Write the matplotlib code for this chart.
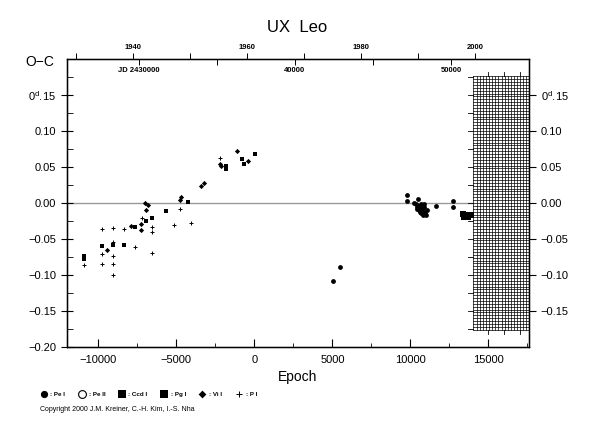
import matplotlib.pyplot as plt
import numpy as np

plt.rcParams['font.family'] = ['Liberation Sans', 'DejaVu Sans']
plt.rcParams['mathtext.default'] = 'regular'

# O-C data (epoch, days)
pe1_epoch = [5064, 5494, 9788, 9788, 10490, 10212, 10350, 10400, 10450, 10500,
             10550, 10600, 10650, 10700, 10750, 10800, 10850, 10900, 10950,
             11000, 11050, 10700, 10900, 11622, 12735, 12735]
pe1_oc = [-0.1087, -0.0889, 0.0107, 0.0024, 0.0050, 0.0005, -0.002, -0.005,
          -0.008, -0.004, -0.010, -0.012, -0.007, -0.014, -0.009, -0.016,
          -0.012, -0.006, -0.014, -0.017, -0.010, -0.002, -0.001, -0.0046,
          0.0028, -0.0056]

ccd1_epoch = [13400, 13500, 13600, 13700, 13800, 13900, 13450, 13650]
ccd1_oc = [-0.015, -0.018, -0.016, -0.019, -0.017, -0.016, -0.020, -0.020]

pg1_epoch = [-10897, -10897, -9763, -9058, -8353, -7647, -6923, -6538, -5641,
             -4276, -1814, -1814, -814, -686, 19]
pg1_oc = [-0.074, -0.078, -0.060, -0.0588, -0.0588, -0.0338, -0.0254, -0.0203,
          -0.0115, 0.0014, 0.051, 0.047, 0.061, 0.0547, 0.0676]

vi1_epoch = [-9442, -7929, -7244, -7244, -6987, -6840, -6942, -4788, -4700,
             -3417, -3224, -2224, -2115, -1090, -404]
vi1_oc = [-0.0648, -0.0314, -0.0291, -0.0375, 0.0, -0.003, -0.010, 0.0047,
          0.0083, 0.0236, 0.0283, 0.0538, 0.0514, 0.0728, 0.0583]

p1_epoch = [-10897, -9763, -9058, -8333, -7224, -6538, -6538, -6538, -9763,
            -9058, -9058, -9763, -9058, -9058, -7673, -4744, -5128, -4038, -2224]
p1_oc = [-0.0856, -0.0356, -0.0347, -0.0365, -0.0208, -0.034, -0.040, -0.069,
         -0.0703, -0.0537, -0.074, -0.085, -0.085, -0.0995, -0.061, -0.0078,
         -0.030, -0.028, 0.0625]

# ephemeris used for the top scales
T0 = 2437400.0
P = 1.0
years = [1930, 1940, 1950, 1960, 1970, 1980, 1990, 2000]
jd_ticks = [2430000, 2435000, 2440000, 2445000, 2450000, 2455000]
jd_labels = ['JD 2430000', '', '40000', '', '50000', '']

xmin, xmax = -12000, 17600
grid_left = 14040

fig = plt.figure(figsize=(5.9, 4.25), dpi=100)
ax = fig.add_axes([0.1136, 0.1835, 0.783, 0.6777])
ax.set_xlim(xmin, xmax)
ax.set_ylim(-0.2, 0.2)

# zero line
ax.plot([xmin, grid_left], [0, 0], color='#999999', lw=1.0, zorder=1)

ms = dict(color='black', linewidths=0, zorder=3)
ax.scatter(pe1_epoch, pe1_oc, marker='o', s=12, label=': Pe I', **ms)
ax.scatter([], [], marker='o', s=14, facecolors='white', edgecolors='black',
           linewidths=0.8, label=': Pe II')
ax.scatter(ccd1_epoch, ccd1_oc, marker='s', s=16, label=': Ccd I', **ms)
ax.scatter(pg1_epoch, pg1_oc, marker='s', s=12, label=': Pg I', **ms)
ax.scatter(vi1_epoch, vi1_oc, marker='D', s=7, label=': Vi I', **ms)
ax.scatter(p1_epoch, p1_oc, marker='+', s=8, color='black', linewidths=0.7,
           zorder=3, label=': P I')

# hatched "future" region
gy0, gy1 = -0.176, 0.176
for gx in np.arange(grid_left, xmax, 200):
    ax.plot([gx, gx], [gy0, gy1], color='black', lw=0.5, zorder=2)
for gy in np.arange(gy0, gy1 + 1e-9, 0.004):
    ax.plot([grid_left, xmax], [gy, gy], color='black', lw=0.5, zorder=2)
for gy in np.arange(-0.175, 0.176, 0.025):
    ax.plot([grid_left - 350, grid_left], [gy, gy], color='black', lw=0.6)
for gx in [15000, 16000, 17000]:
    ax.plot([gx, gx], [gy1, gy1 + 0.006], color='black', lw=0.6)
    ax.plot([gx, gx], [gy0, gy0 - 0.006], color='black', lw=0.6)

# axes styling
ax.set_xticks(np.arange(-10000, 15001, 5000))
ax.set_xticks(np.arange(-10000, 17501, 2500), minor=True)
ax.set_xticklabels(['\u221210000', '\u22125000', '0', '5000', '10000', '15000'])
ax.set_yticks(np.arange(-0.2, 0.151, 0.05))
ax.set_yticks(np.arange(-0.2, 0.176, 0.025), minor=True)
ylab = ['\u22120.20', '\u22120.15', '\u22120.10', '\u22120.05', '0.00',
        '0.05', '0.10', '0$^d$.15']
ax.set_yticklabels(ylab)
ax.tick_params(axis='x', which='major', direction='in', length=6, width=0.8,
               labelsize=8, pad=6, top=False)
ax.tick_params(axis='x', which='minor', direction='in', length=3, width=0.6,
               top=False)
ax.tick_params(axis='y', which='major', direction='inout', length=9, width=0.8,
               labelsize=8, right=False)
ax.tick_params(axis='y', which='minor', direction='in', length=4, width=0.6,
               right=False)
for s in ax.spines.values():
    s.set_linewidth(0.9)
ax.set_xlabel('Epoch', fontsize=10, labelpad=3)

# right scale
ax_r = ax.twinx()
ax_r.set_ylim(-0.2, 0.2)
ax_r.set_yticks(np.arange(-0.15, 0.151, 0.05))
ax_r.set_yticklabels(['\u22120.15', '\u22120.10', '\u22120.05', '0.00',
                      '0.05', '0.10', '0$^d$.15'])
ax_r.tick_params(axis='y', direction='out', length=5, width=0.8, labelsize=8)

# top scale: years
ax_y = ax.twiny()
ax_y.set_xlim(xmin, xmax)
year_epoch = [(2451545.0 + (y - 2000) * 365.25 - T0) / P for y in years]
ax_y.set_xticks(year_epoch)
ax_y.set_xticklabels([str(y) if y % 20 == 0 else '' for y in years])
ax_y.tick_params(axis='x', direction='out', length=4, width=0.7,
                 labelsize=5.5, pad=2)
for lbl in ax_y.get_xticklabels():
    lbl.set_fontweight('bold')

# top scale: JD (labels inside the frame)
ax_j = ax.twiny()
ax_j.set_xlim(xmin, xmax)
ax_j.set_xticks([(j - T0) / P for j in jd_ticks])
ax_j.set_xticklabels(jd_labels)
ax_j.tick_params(axis='x', direction='in', length=4, width=0.7,
                 labelsize=5.5, pad=-11)
for lbl in ax_j.get_xticklabels():
    lbl.set_fontweight('bold')

fig.text(0.503, 0.935, 'UX  Leo', ha='center', va='center', fontsize=12)
fig.text(0.068, 0.853, 'O\u2212C', ha='center', va='center', fontsize=10)

fig.legend(loc='center left', bbox_to_anchor=(0.058, 0.072), ncol=6,
           frameon=False, handletextpad=0.1, columnspacing=1.6,
           markerscale=1.5, borderpad=0, prop={'weight': 'bold', 'size': 4.5})
fig.text(0.068, 0.037, 'Copyright 2000 J.M. Kreiner, C.-H. Kim, I.-S. Nha',
         ha='left', va='center', fontsize=5)

fig.savefig('out.png', dpi=100)
